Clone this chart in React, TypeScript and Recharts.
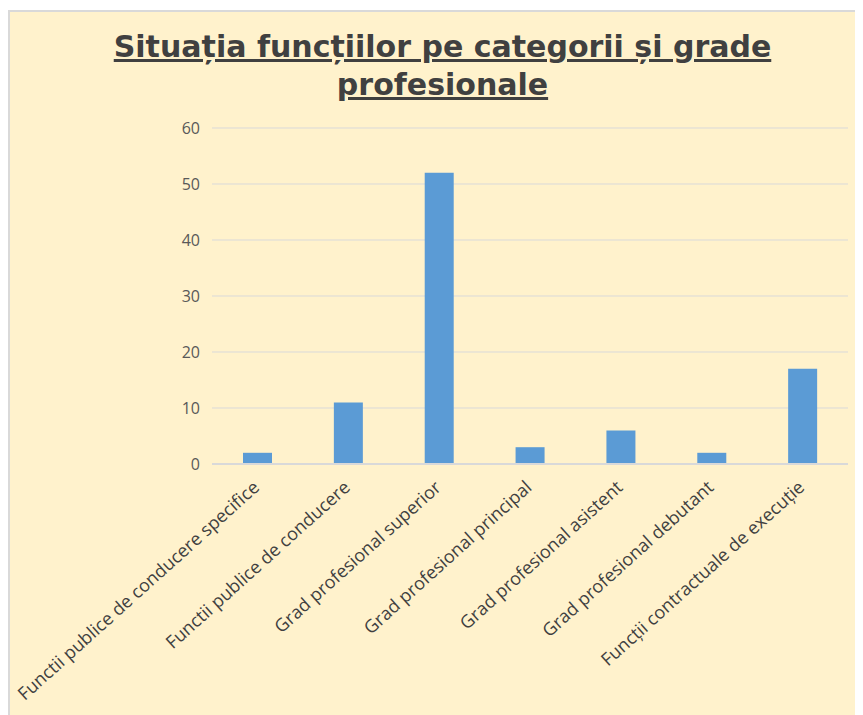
import React from "react";
import { BarChart, Bar, XAxis, YAxis, CartesianGrid } from "recharts";

const categories = [
  "Functii publice de conducere specifice",
  "Functii publice de conducere",
  "Grad profesional superior",
  "Grad profesional principal",
  "Grad profesional asistent",
  "Grad profesional debutant",
  "Funcții contractuale de execuție",
];
const values = [2, 11, 52, 3, 6, 2, 17];
const yTicks = [0, 10, 20, 30, 40, 50, 60];

const data = categories.map((name, i) => ({ name, value: values[i] }));

const LABEL_FONT = "'Open Sans', sans-serif";

const RotatedTick = (props: any) => {
  const { x, y, payload } = props;
  return (
    <g transform={`translate(${x + 3},${y + 17})`}>
      <text
        transform="rotate(-42)"
        textAnchor="end"
        fill="#404040"
        fontSize={18}
        fontFamily={LABEL_FONT}
      >
        {payload.value}
      </text>
    </g>
  );
};

export default function App() {
  return (
    <div style={{ position: "relative", width: 855, height: 705, marginTop: 2 }}>
      <div style={{ position: "absolute", left: -8, top: -10, width: 6, height: 15, background: "#000" }} />
      <div
        style={{
          position: "absolute",
          left: 0,
          top: 0,
          width: 853,
          height: 703,
          background: "#FFF2CC",
          borderTop: "2px solid #d9d9d9",
          borderLeft: "2px solid #d9d9d9",
        }}
      >
        <div
          style={{
            position: "absolute",
            left: 0,
            top: 16,
            width: 865,
            textAlign: "center",
            fontFamily: "'DejaVu Sans', Verdana, sans-serif",
            fontWeight: "bold",
            fontSize: 30,
            lineHeight: "38px",
            color: "#404040",
            textDecoration: "underline",
          }}
        >
          Situația funcțiilor pe categorii și grade
          <br />
          profesionale
        </div>
        <BarChart
          width={853}
          height={703}
          data={data}
          margin={{ top: 116, right: 15, bottom: 6, left: 152 }}
        >
          <CartesianGrid vertical={false} stroke="#d9d9d9" />
          <XAxis
            dataKey="name"
            interval={0}
            height={245}
            tickLine={false}
            axisLine={{ stroke: "#d9d9d9", strokeWidth: 2 }}
            tick={<RotatedTick />}
          />
          <YAxis
            width={50}
            domain={[0, 60]}
            ticks={yTicks}
            tickLine={false}
            axisLine={false}
            tickMargin={6}
            tick={{ fill: "#595959", fontSize: 16, fontFamily: LABEL_FONT }}
          />
          <Bar dataKey="value" fill="#5B9BD5" barSize={29} isAnimationActive={false} />
        </BarChart>
      </div>
    </div>
  );
}
